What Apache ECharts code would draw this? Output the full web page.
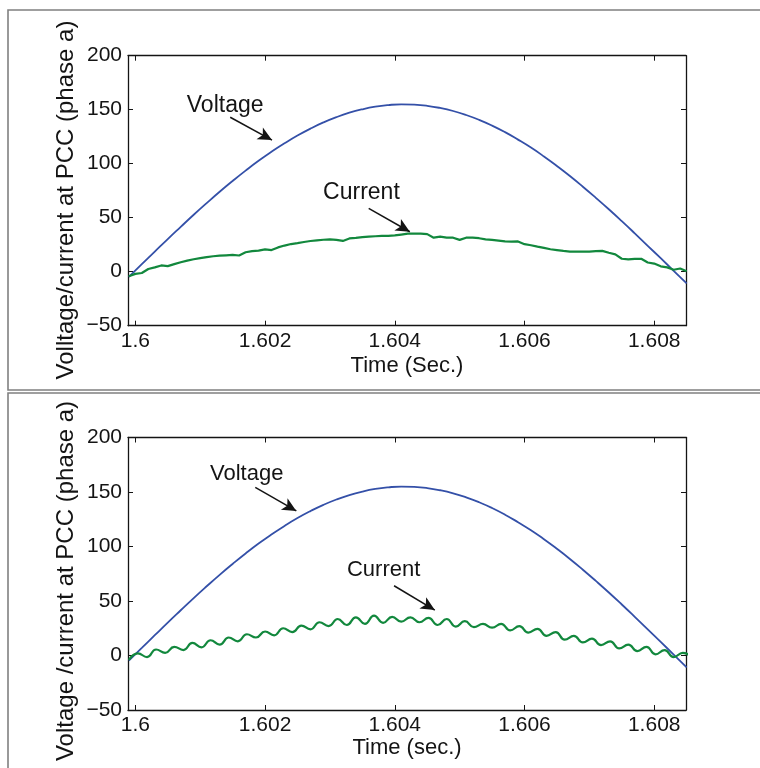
<!DOCTYPE html>
<html>
<head>
<meta charset="utf-8">
<title>Voltage/current at PCC (phase a)</title>
<script src="https://cdn.jsdelivr.net/npm/echarts@6/dist/echarts.min.js"></script>
<style>
  html, body { margin: 0; padding: 0; background: #fff; }
  #chart { width: 760px; height: 768px; }
</style>
</head>
<body>
<div id="chart"></div>
<script>
// B data
var xTicks = [1.6, 1.602, 1.604, 1.606, 1.608]
var xMin = 1.599887
var xMax = 1.60849
var yMin = -50
var yMax = 200
var yStep = 50

// sample grids (start time + step)
var tStart = 1.5999
var voltageStep = 0.0002
var voltage = [-4.7, 7.0, 18.6, 30.2, 41.5, 52.7, 63.5, 74.0, 84.0, 93.6,
  102.7, 111.1, 118.9, 126.1, 132.5, 138.2, 143.1, 147.2, 150.4, 152.8,
  154.3, 155.0, 154.7, 153.6, 151.6, 148.8, 145.1, 140.6, 135.3, 129.2,
  122.3, 114.9, 106.7, 97.9, 88.6, 78.7, 68.4, 57.8, 46.8, 35.5,
  24.0, 12.5, 0.8, -10.9]

// top panel current (small noise)
var currentTopStep = 0.0001
var currentTop = [-4.3, -2, -1.2, 2.5, 4, 5.8, 5.2, 7, 8.8, 10.3,
  11.5, 12.5, 13.5, 14.3, 14.8, 15.2, 15.5, 15, 18, 19,
  19.5, 20.7, 20, 22.5, 24.2, 25.6, 26.5, 27.5, 28.4, 29,
  29.6, 30, 29.5, 28.5, 30.8, 31.3, 32, 32.5, 32.8, 33.1,
  33.2, 33.6, 34.4, 35.2, 35.3, 35.2, 34.8, 31.5, 32.4, 31.5,
  31.5, 29.5, 31.5, 31.5, 31, 30, 29.5, 28.8, 28, 27.8,
  28, 25.5, 24.5, 23.2, 22, 20.8, 20, 19.2, 18.6, 18.5,
  18.5, 18.6, 19, 19.3, 17.5, 16, 12, 11.5, 11.8, 12,
  8.5, 7.5, 5, 4, 1.8, 3, 0.5]

// bottom panel current (ripple)
var currentBottomStep = 0.00014
var currentBottom = [-4, 2, -1.5, 5.5, 2.5, 8, 5, 11.5, 7.5, 14,
  10, 16.5, 13, 19.5, 16.5, 22, 18.5, 25, 21.5, 27.5,
  24, 30.5, 27, 33.5, 28, 35, 29, 36.5, 30, 35.5,
  31, 35, 30.5, 34.5, 28, 33.5, 26.5, 31.5, 26, 29,
  25.5, 29, 23, 27, 21, 24.5, 18, 21.5, 14.5, 18,
  12, 15.5, 9.5, 13, 6.5, 10, 4, 8, 1, 5,
  -1.5, 2.5, -2]
// E data

var FONT = '"Liberation Sans", Arial, sans-serif'
var INK = '#141414'
var BLUE = '#3450a8'
var GREEN = '#12883d'

function pairs (arr, step) {
  var out = []
  for (var i = 0; i < arr.length; i++) {
    out.push([+(tStart + i * step).toFixed(6), arr[i]])
  }
  return out
}

// B annotations (data units)
var notes = [
  { grid: 0, text: 'Voltage', at: [1.601385, 153.4], from: [1.601463, 143.0], to: [1.602107, 121.9], size: 23 },
  { grid: 0, text: 'Current', at: [1.603486, 72.9], from: [1.603598, 58.7], to: [1.604232, 37.0], size: 23 },
  { grid: 1, text: 'Voltage', at: [1.601717, 166.5], from: [1.601849, 154.3], to: [1.602482, 132.6], size: 22 },
  { grid: 1, text: 'Current', at: [1.603828, 78.4], from: [1.603989, 64.0], to: [1.604617, 41.7], size: 22 }
]
// E annotations

function xAxisOf (gridIndex, pos, label, nameGap) {
  return {
    type: 'value', gridIndex: gridIndex, position: pos,
    min: xMin, max: xMax,
    name: label || '', nameLocation: 'middle', nameGap: nameGap || 0,
    nameTextStyle: { fontFamily: FONT, fontSize: 22, color: INK },
    axisLine: { show: true, onZero: false, lineStyle: { color: INK, width: 1.3 } },
    axisTick: { show: true, inside: true, length: 5, customValues: xTicks, lineStyle: { color: INK } },
    axisLabel: {
      show: pos === 'bottom', customValues: xTicks, margin: 5,
      fontFamily: FONT, fontSize: 21, color: INK,
      formatter: function (v) { return String(+v.toFixed(3)) }
    },
    splitLine: { show: false }
  }
}

function yAxisOf (gridIndex, pos) {
  return {
    type: 'value', gridIndex: gridIndex, position: pos,
    min: yMin, max: yMax, interval: yStep,
    axisLine: { show: true, lineStyle: { color: INK, width: 1.3 } },
    axisTick: { show: true, inside: true, length: 5, lineStyle: { color: INK } },
    axisLabel: {
      show: pos === 'left', margin: 6,
      fontFamily: FONT, fontSize: 21, color: INK,
      formatter: function (v) { return v < 0 ? '\u2212' + Math.abs(v) : String(v) }
    },
    splitLine: { show: false }
  }
}

function noteMarks (list) {
  return {
    markLine: {
      silent: true, symbol: ['none', 'arrow'], symbolSize: [10, 14],
      label: { show: false },
      lineStyle: { color: INK, width: 1.5, type: 'solid' },
      emphasis: { disabled: true },
      data: list.map(function (n) { return [{ coord: n.from }, { coord: n.to }] })
    },
    markPoint: {
      silent: true, symbol: 'circle', symbolSize: 1,
      itemStyle: { color: 'rgba(0,0,0,0)' },
      label: { show: true, position: 'inside', fontFamily: FONT, color: INK },
      data: list.map(function (n) {
        return { coord: n.at, label: { formatter: n.text, fontSize: n.size } }
      })
    }
  }
}

function lineSeries (name, data, xi, yi, color, width, smooth, marks) {
  var s = {
    name: name, type: 'line', xAxisIndex: xi, yAxisIndex: yi,
    data: data, showSymbol: false, smooth: smooth, animation: false,
    lineStyle: { color: color, width: width }, itemStyle: { color: color },
    emphasis: { disabled: true }
  }
  if (marks) { s.markLine = marks.markLine; s.markPoint = marks.markPoint }
  return s
}

function pick (g, t) { return notes.filter(function (n) { return n.grid === g && n.text === t }) }

var chart = echarts.init(document.getElementById('chart'), null, { renderer: 'canvas' })

chart.setOption({
  animation: false,
  backgroundColor: '#fff',
  grid: [
    { left: 128, top: 55.7, width: 558, height: 270 },
    { left: 128, top: 437.5, width: 558, height: 272.5 }
  ],
  xAxis: [
    xAxisOf(0, 'bottom', 'Time (Sec.)', 29),
    xAxisOf(0, 'top'),
    xAxisOf(1, 'bottom', 'Time (sec.)', 24),
    xAxisOf(1, 'top')
  ],
  yAxis: [
    yAxisOf(0, 'left'),
    yAxisOf(0, 'right'),
    yAxisOf(1, 'left'),
    yAxisOf(1, 'right')
  ],
  series: [
    lineSeries('Voltage', pairs(voltage, voltageStep), 0, 0, BLUE, 1.8, true, noteMarks(pick(0, 'Voltage'))),
    lineSeries('Current', pairs(currentTop, currentTopStep), 0, 0, GREEN, 2.2, false, noteMarks(pick(0, 'Current'))),
    lineSeries('Voltage', pairs(voltage, voltageStep), 2, 2, BLUE, 1.8, true, noteMarks(pick(1, 'Voltage'))),
    lineSeries('Current', pairs(currentBottom, currentBottomStep), 2, 2, GREEN, 2.2, true, noteMarks(pick(1, 'Current')))
  ],
  graphic: [
    { type: 'rect', silent: true, shape: { x: 8, y: 10, width: 800, height: 380 },
      style: { fill: 'none', stroke: '#808080', lineWidth: 1.6 } },
    { type: 'rect', silent: true, shape: { x: 8, y: 393, width: 800, height: 420 },
      style: { fill: 'none', stroke: '#808080', lineWidth: 1.6 } },
    { type: 'text', silent: true, x: 66.5, y: 200, rotation: Math.PI / 2,
      style: { text: 'Volltage/current at PCC (phase a)', fontFamily: FONT, fontSize: 24, fill: INK,
        align: 'center', verticalAlign: 'middle', textAlign: 'center', textVerticalAlign: 'middle' } },
    { type: 'text', silent: true, x: 66.5, y: 581, rotation: Math.PI / 2,
      style: { text: 'Voltage /current at PCC (phase a)', fontFamily: FONT, fontSize: 24, fill: INK,
        align: 'center', verticalAlign: 'middle', textAlign: 'center', textVerticalAlign: 'middle' } }
  ]
})
</script>
</body>
</html>
